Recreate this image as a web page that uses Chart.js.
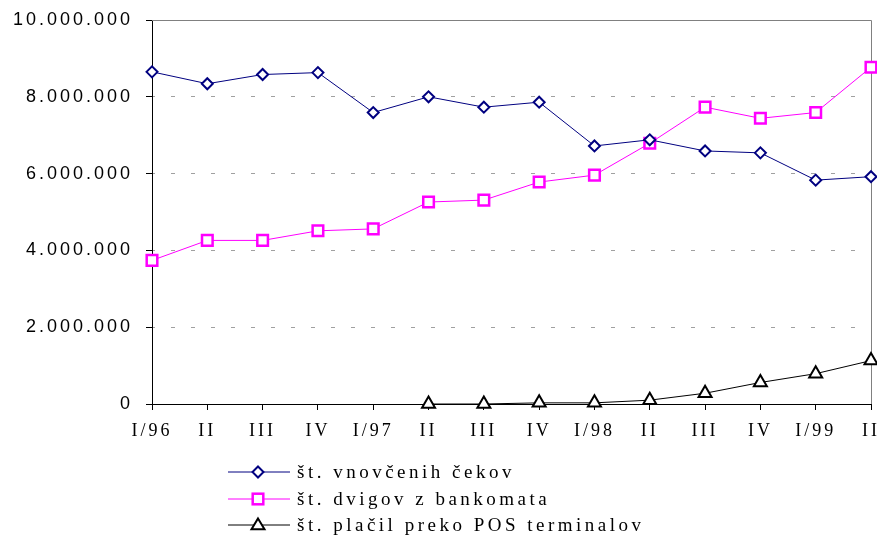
<!DOCTYPE html>
<html>
<head>
<meta charset="utf-8">
<script src="https://cdn.jsdelivr.net/npm/chart.js@4"></script>
<style>
    html, body { margin: 0; padding: 0; background: #fff; }
    #wrap { position: relative; width: 877px; height: 537px; overflow: hidden; }
    #legend {
        position: absolute; left: 228px; top: 459px;
        font: 19px "Liberation Serif", serif; letter-spacing: 3.5px; color: #000;
    }
    .item { height: 26.5px; display: flex; align-items: center; white-space: nowrap; }
    .item svg { margin-right: 7px; flex: none; }
</style>
</head>
<body>
<div id="wrap">
    <!-- a little wider than the window: the last category sits on the right edge, as in the original -->
    <canvas id="chart" width="881" height="537"></canvas>
    <div id="legend"></div>
</div>
<script>
const labels = ['I/96', 'II', 'III', 'IV', 'I/97', 'II', 'III', 'IV', 'I/98', 'II', 'III', 'IV', 'I/99', 'II'];
const seriesNames = ['št. vnovčenih čekov', 'št. dvigov z bankomata', 'št. plačil preko POS terminalov'];
const cekiValues = [8650000, 8340000, 8580000, 8630000, 7590000, 8000000, 7730000, 7860000, 6720000, 6880000, 6590000, 6540000, 5830000, 5920000];
const bankomatValues = [3740000, 4260000, 4260000, 4510000, 4560000, 5260000, 5310000, 5780000, 5960000, 6790000, 7730000, 7440000, 7590000, 8770000];
const posValues = [null, null, null, null, null, 0, 0, 30000, 30000, 100000, 280000, 560000, 790000, 1130000];
const yMax = 10000000;
const yStep = 2000000;

// 10000000 -> "10.000.000"
const fmt = v => String(v).replace(/\B(?=(\d{3})+(?!\d))/g, '.');

const framePlugin = {
    id: 'frame',
    beforeDraw(chart) {
        chart.ctx.letterSpacing = '3px';
    },
    beforeDatasetsDraw(chart) {
        const { ctx, chartArea: a } = chart;
        ctx.save();
        ctx.strokeStyle = '#808080';
        ctx.lineWidth = 1;
        ctx.beginPath();
        ctx.moveTo(a.left, a.top + 0.5);
        ctx.lineTo(a.right + 0.5, a.top + 0.5);
        ctx.lineTo(a.right + 0.5, a.bottom);
        ctx.stroke();
        ctx.restore();
    }
};

const chart = new Chart(document.getElementById('chart'), {
    type: 'line',
    data: {
        labels: labels,
        datasets: [
            {
                label: seriesNames[0],
                data: cekiValues,
                borderColor: '#000080',
                borderWidth: 1,
                pointStyle: 'rectRot',
                pointRadius: 5.5,
                pointBorderWidth: 2,
                pointBackgroundColor: '#fff',
                pointBorderColor: '#000080',
                clip: false,
            },
            {
                label: seriesNames[1],
                data: bankomatValues,
                borderColor: '#ff00ff',
                borderWidth: 1,
                pointStyle: 'rect',
                pointRadius: 7.5,
                pointBorderWidth: 2.5,
                pointBackgroundColor: '#fff',
                pointBorderColor: '#ff00ff',
                clip: false,
            },
            {
                label: seriesNames[2],
                data: posValues,
                borderColor: '#000',
                borderWidth: 1,
                pointStyle: 'triangle',
                pointRadius: 7.5,
                pointBorderWidth: 2,
                pointBackgroundColor: '#fff',
                pointBorderColor: '#000',
                clip: false,
            },
        ],
    },
    options: {
        responsive: false,
        animation: false,
        layout: { padding: { top: 20, right: 2, left: 0, bottom: 93 } },
        plugins: {
            legend: { display: false },
            tooltip: { enabled: false },
        },
        scales: {
            x: {
                offset: false,
                grid: { drawOnChartArea: false, drawTicks: true, tickLength: 6, tickColor: '#000', tickBorderDash: [] },
                border: { color: '#000', width: 1 },
                ticks: {
                    color: '#000',
                    font: { family: 'Liberation Serif', size: 18 },
                    padding: 10,
                    maxRotation: 0,
                    autoSkip: false,
                },
                afterFit: s => { s.paddingLeft = 0; s.paddingRight = 0; s.height = 40; },
            },
            y: {
                min: 0,
                max: yMax,
                grid: { color: '#a0a0a0', lineWidth: 1, tickLength: 6, tickColor: '#000', tickBorderDash: [] },
                border: { display: true, color: '#000', width: 1, dash: [4, 16], dashOffset: 2 },
                ticks: {
                    stepSize: yStep,
                    color: '#000',
                    font: { family: 'Liberation Sans', size: 18 },
                    padding: 13,
                    callback: v => fmt(v),
                },
                afterFit: s => { s.width = 152; s.paddingTop = 0; s.paddingBottom = 0; },
            },
        },
    },
    plugins: [framePlugin],
});

// legend built from the chart's datasets
function markerSvg(ds) {
    const c = ds.pointBorderColor;
    let shape = '';
    if (ds.pointStyle === 'rectRot') {
        shape = `<polygon points="30,4.5 35.5,10 30,15.5 24.5,10" fill="#fff" stroke="${c}" stroke-width="2"/>`;
    } else if (ds.pointStyle === 'rect') {
        shape = `<rect x="24.7" y="4.7" width="10.6" height="10.6" fill="#fff" stroke="${c}" stroke-width="2.5"/>`;
    } else {
        shape = `<polygon points="30,3.5 36.5,14.2 23.5,14.2" fill="#fff" stroke="${c}" stroke-width="2"/>`;
    }
    return `<svg width="62" height="20"><line x1="0" y1="10" x2="62" y2="10" stroke="${ds.borderColor}" stroke-width="1"/>${shape}</svg>`;
}
document.getElementById('legend').innerHTML = chart.data.datasets
    .map(ds => `<div class="item">${markerSvg(ds)}<span>${ds.label}</span></div>`)
    .join('');
</script>
</body>
</html>
